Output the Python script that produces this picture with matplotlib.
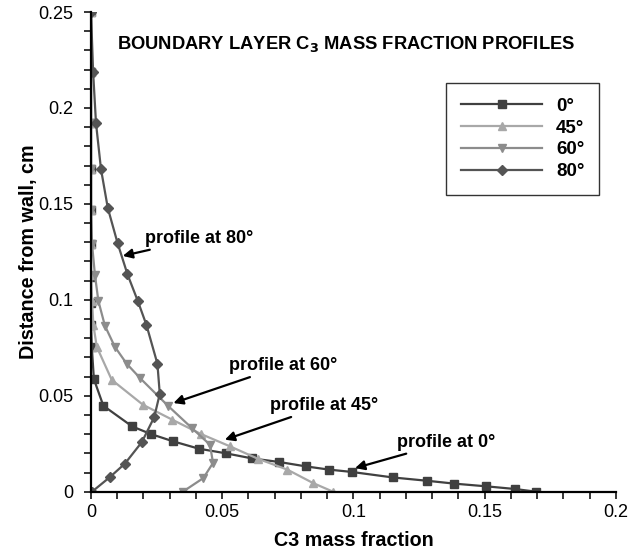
import matplotlib
matplotlib.use("Agg")
import matplotlib.pyplot as plt
from matplotlib.ticker import MultipleLocator, FuncFormatter

plt.rcParams['font.family'] = ['Liberation Sans', 'DejaVu Sans']

# ---- data ----
labels = ["0\u00b0", "45\u00b0", "60\u00b0", "80\u00b0"]

x0 = [0.0, 0.0, 0.0, 0.0, 0.0, 0.0, 0.0, 0.0, 0.0, 0.0003, 0.0011, 0.0047,
      0.0157, 0.0229, 0.0314, 0.0411, 0.0514, 0.0615, 0.0716, 0.0818, 0.0907,
      0.0993, 0.1151, 0.1280, 0.1384, 0.1505, 0.1615, 0.1695]
y0 = [0.25, 0.219, 0.192, 0.168, 0.147, 0.129, 0.112, 0.0984, 0.087, 0.0755,
      0.0587, 0.0448, 0.034, 0.030, 0.0262, 0.0224, 0.020, 0.0173, 0.0155,
      0.0132, 0.0115, 0.0103, 0.0074, 0.0057, 0.0042, 0.0028, 0.0014, 0.0]

x45 = [0.0, 0.0, 0.0, 0.0, 0.0, 0.0, 0.0, 0.0004, 0.0009, 0.0022, 0.0079,
       0.0198, 0.031, 0.042, 0.0530, 0.0637, 0.0748, 0.0846, 0.0922]
y45 = [0.25, 0.219, 0.192, 0.168, 0.147, 0.129, 0.113, 0.0995, 0.087, 0.0755,
       0.0583, 0.0453, 0.0375, 0.030, 0.0236, 0.0171, 0.0115, 0.0045, 0.0]

x60 = [0.0, 0.0, 0.0, 0.0, 0.0, 0.0004, 0.0015, 0.0028, 0.0053, 0.0091,
       0.0136, 0.0187, 0.0293, 0.0384, 0.0453, 0.0465, 0.0428, 0.035]
y60 = [0.25, 0.219, 0.192, 0.168, 0.147, 0.129, 0.113, 0.0995, 0.0865, 0.0755,
       0.0667, 0.0592, 0.0448, 0.0332, 0.0245, 0.015, 0.0071, 0.0]

x80 = [0.0, 0.0008, 0.0019, 0.0038, 0.0064, 0.0101, 0.0139, 0.0178, 0.0211,
       0.0253, 0.0262, 0.0241, 0.0194, 0.0129, 0.0072, 0.0004]
y80 = [0.25, 0.219, 0.1922, 0.1682, 0.1479, 0.1297, 0.1133, 0.0995, 0.0870,
       0.0667, 0.0510, 0.0389, 0.0259, 0.0146, 0.0076, 0.0]

series = [(x0, y0), (x45, y45), (x60, y60), (x80, y80)]
colors = ["#404040", "#a8a8a8", "#8c8c8c", "#545454"]
markers = ["s", "^", "v", "D"]
msizes = [5.5, 5.5, 5.5, 5.0]

annotations = [
    ("profile at 80\u00b0", (0.0121, 0.1229), (0.0206, 0.1320)),
    ("profile at 60\u00b0", (0.0314, 0.0462), (0.0526, 0.0656)),
    ("profile at 45\u00b0", (0.0510, 0.0271), (0.0682, 0.0448)),
    ("profile at 0\u00b0", (0.1006, 0.0123), (0.1166, 0.0257)),
]

fig = plt.figure(figsize=(6.39, 5.49), dpi=100)
ax = fig.add_axes([0.1424, 0.1044, 0.8216, 0.8736])

for (xs, ys), c, m, ms, lab in zip(series, colors, markers, msizes, labels):
    ax.plot(xs, ys, color=c, lw=1.6, marker=m, ms=ms, mfc=c, mec=c, label=lab)

ax.set_xlim(0, 0.2)
ax.set_ylim(0, 0.25)
ax.xaxis.set_major_locator(MultipleLocator(0.05))
ax.xaxis.set_minor_locator(MultipleLocator(0.01))
ax.yaxis.set_major_locator(MultipleLocator(0.05))
ax.yaxis.set_minor_locator(MultipleLocator(0.01))
ax.xaxis.set_major_formatter(FuncFormatter(lambda v, p: f"{v:g}"))
ax.yaxis.set_major_formatter(FuncFormatter(lambda v, p: f"{v:g}"))

for s in ["top", "right"]:
    ax.spines[s].set_visible(False)
for s in ["left", "bottom"]:
    ax.spines[s].set_linewidth(1.6)
ax.tick_params(which="both", direction="out", length=5, width=1.1, labelsize=13)
ax.tick_params(axis="x", pad=4)
ax.tick_params(axis="y", pad=8)

ax.set_xlabel("C3 mass fraction", fontsize=14.2, fontweight="bold", labelpad=7)
ax.set_ylabel("Distance from wall, cm", fontsize=14.2, fontweight="bold", labelpad=0)

ax.text(0.485, 0.934, "BOUNDARY LAYER C$_\\mathbf{3}$ MASS FRACTION PROFILES",
        transform=ax.transAxes, ha="center", va="center", fontsize=13.2,
        fontweight="bold")

for txt, tip, tail in annotations:
    ax.annotate(txt, xy=tip, xytext=tail, fontsize=13, fontweight="bold",
                ha="left", va="center",
                arrowprops=dict(arrowstyle="-|>", color="black", lw=1.6,
                                mutation_scale=14, shrinkA=0, shrinkB=0))

leg = ax.legend(loc="upper left", bbox_to_anchor=(0.677, 0.853),
                frameon=True, fancybox=False, edgecolor="black",
                prop=dict(size=13.5, weight="bold"), handlelength=4.3,
                borderpad=0.8, labelspacing=0.25, handletextpad=0.75,
                borderaxespad=0)
leg.get_frame().set_linewidth(1.0)
leg.set_zorder(5)

fig.savefig("out.png", dpi=100)
